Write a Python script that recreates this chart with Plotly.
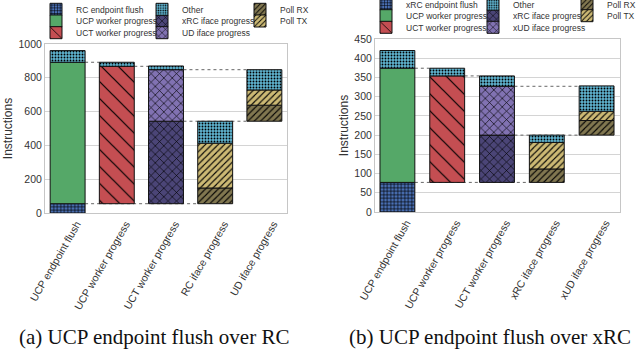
import plotly.graph_objects as go

W, H = 639, 353

# ---------------- data ----------------
categories_a = ["UCP endpoint flush", "UCP worker progress", "UCT worker progress",
                "RC iface progress", "UD iface progress"]
categories_b = ["UCP endpoint flush", "UCP worker progress", "UCT worker progress",
                "xRC iface progress", "xUD iface progress"]

# bar start level (bottom of each floating bar)
start_a = [0, 55, 55, 55, 543]
start_b = [0, 77, 77, 77, 200]

# segment heights (bottom to top)
flush_a = [55, None, None, None, None]
ucp_a = [837, None, None, None, None]
uct_a = [None, 813, None, None, None]
iface1_a = [None, None, 488, None, None]
iface2_a = [None, None, 305, None, None]
pollrx_a = [None, None, None, 93, 95]
polltx_a = [None, None, None, 265, 90]
other_a = [69, 24, 22, 130, 120]

flush_b = [77, None, None, None, None]
ucp_b = [297, None, None, None, None]
uct_b = [None, 277, None, None, None]
iface1_b = [None, None, 123, None, None]
iface2_b = [None, None, 127, None, None]
pollrx_b = [None, None, None, 35, 38]
polltx_b = [None, None, None, 69, 24]
other_b = [46, 20, 27, 19, 66]

names_a = ["RC endpoint flush", "UCP worker progress", "UCT worker progress",
           "xRC iface progress", "UD iface progress", "Poll RX", "Poll TX", "Other"]
names_b = ["xRC endpoint flush", "UCP worker progress", "UCT worker progress",
           "xRC iface progress", "xUD iface progress", "Poll RX", "Poll TX", "Other"]

caption_a = "(a) UCP endpoint flush over RC"
caption_b = "(b) UCP endpoint flush over xRC"

# ---------------- styles ----------------
seg_keys = ["flush", "ucp", "uct", "iface1", "iface2", "pollrx", "polltx", "other"]
colors = {"flush": "#4a70b5", "ucp": "#55a868", "uct": "#c44e52", "iface1": "#4b4577",
          "iface2": "#8172b2", "pollrx": "#817750", "polltx": "#ccb974", "other": "#5fb4d0"}
patterns = {
    "flush": dict(shape="+", size=3.5, solidity=0.35),
    "ucp": dict(shape=""),
    "uct": dict(shape="\\", size=12, solidity=0.1),
    "iface1": dict(shape="x", size=6, solidity=0.2),
    "iface2": dict(shape="x", size=6, solidity=0.2),
    "pollrx": dict(shape="/", size=4.5, solidity=0.25),
    "polltx": dict(shape="/", size=4.5, solidity=0.25),
    "other": dict(shape=".", size=3, solidity=0.3),
}
# legend layout: (column, row)
legend_pos = {"flush": (0, 0), "ucp": (0, 1), "uct": (0, 2),
              "other": (1, 0), "iface1": (1, 1), "iface2": (1, 2),
              "pollrx": (2, 0), "polltx": (2, 1)}
panels = [
    dict(cats=categories_a, start=start_a, names=names_a,
         segs=[flush_a, ucp_a, uct_a, iface1_a, iface2_a, pollrx_a, polltx_a, other_a],
         xdom=(45, 287), ydom=(44, 213), yrange=[0, 1000], dtick=200, xr=[-0.46, 4.46],
         width=0.71, leg_x=[76, 182, 280], leg_y=[9.3, 21, 32.7],
         caption=caption_a, cap_x=153.5, title_standoff=3),
    dict(cats=categories_b, start=start_b, names=names_b,
         segs=[flush_b, ucp_b, uct_b, iface1_b, iface2_b, pollrx_b, polltx_b, other_b],
         xdom=(375, 620), ydom=(39, 212), yrange=[0, 450], dtick=50, xr=[-0.45, 4.47],
         width=0.70, leg_x=[406, 513, 607], leg_y=[4.2, 15.7, 27.3],
         caption=caption_b, cap_x=490, title_standoff=3),
]
connectors = [("flush", 0, 3), ("ucp", 0, 1), ("uct", 1, 2), ("iface2", 2, 4), ("iface1", 2, 4)]

fig = go.Figure()
layout = dict(width=W, height=H, margin=dict(l=0, r=0, t=0, b=0, autoexpand=False),
              paper_bgcolor="white", plot_bgcolor="white", barmode="overlay",
              font=dict(family="Liberation Sans, Arial, sans-serif", color="#333333"))
shapes, annotations = [], []
leg_count = 0

for p_i, p in enumerate(panels):
    xa = "x" if p_i == 0 else "x2"
    ya = "y" if p_i == 0 else "y2"
    n = len(p["cats"])
    xs = list(range(n))
    bases = {}
    tops = {}
    cur = list(p["start"])
    for k, vals in zip(seg_keys, p["segs"]):
        b, t = [], []
        for i in range(n):
            v = vals[i]
            if v is None:
                b.append(None); t.append(None)
            else:
                b.append(cur[i]); cur[i] += v; t.append(cur[i])
        bases[k] = b
        tops[k] = t
    for k, vals, nm in zip(seg_keys, p["segs"], p["names"]):
        leg_count += 1
        lid = "legend" if leg_count == 1 else f"legend{leg_count}"
        pat = dict(patterns[k])
        if pat["shape"]:
            pat.update(fgcolor="black", fgopacity=1, fillmode="overlay")
        fig.add_trace(go.Bar(
            x=xs, y=vals, base=bases[k], name=nm, width=p["width"],
            marker=dict(color=colors[k], line=dict(color="#111111", width=1), pattern=pat),
            xaxis=xa, yaxis=ya, legend=lid, showlegend=True,
        ))
        col, row = legend_pos[k]
        layout[lid] = dict(
            x=(p["leg_x"][col] - 40) / W, xanchor="left",
            y=1 - p["leg_y"][row] / H, yanchor="middle",
            bgcolor="rgba(0,0,0,0)", borderwidth=0,
            font=dict(size=8.5, color="#333333"), itemwidth=30,
        )
    w = p["width"]
    for k, i0, i1 in connectors:
        yv = tops[k][i0]
        shapes.append(dict(type="line", xref=xa, yref=ya, x0=i0 + w / 2, x1=i1 - w / 2,
                           y0=yv, y1=yv, layer="between",
                           line=dict(color="#666666", width=1, dash="dot")))
    xkey = "xaxis" if p_i == 0 else "xaxis2"
    ykey = "yaxis" if p_i == 0 else "yaxis2"
    layout[xkey] = dict(domain=[p["xdom"][0] / W, p["xdom"][1] / W], anchor=ya,
                        range=p["xr"], tickmode="array", tickvals=xs, ticktext=p["cats"],
                        tickangle=-60, ticklabelshift=9, tickfont=dict(size=10.5, color="#333333"),
                        showgrid=False, zeroline=False, showline=True, mirror=True,
                        linecolor="#c6c6c6", linewidth=1, ticks="")
    layout[ykey] = dict(domain=[1 - p["ydom"][1] / H, 1 - p["ydom"][0] / H], anchor=xa,
                        range=p["yrange"], dtick=p["dtick"], tick0=0,
                        showgrid=True, gridcolor="#d4d4d4", gridwidth=1, zeroline=False,
                        showline=True, mirror=True, linecolor="#c6c6c6", linewidth=1,
                        ticks="", tickfont=dict(size=10.5, color="#333333"),
                        title=dict(text="Instructions", font=dict(size=12, color="#333333"),
                                   standoff=p["title_standoff"]))
    annotations.append(dict(text=p["caption"], xref="paper", yref="paper",
                            x=p["cap_x"] / W, y=1 - 337 / H, xanchor="center", yanchor="middle",
                            showarrow=False,
                            font=dict(family="Liberation Serif, Times New Roman, serif",
                                      size=21, color="#111111")))

layout["shapes"] = shapes
layout["annotations"] = annotations
fig.update_layout(**layout)
fig.write_html("out.html")
